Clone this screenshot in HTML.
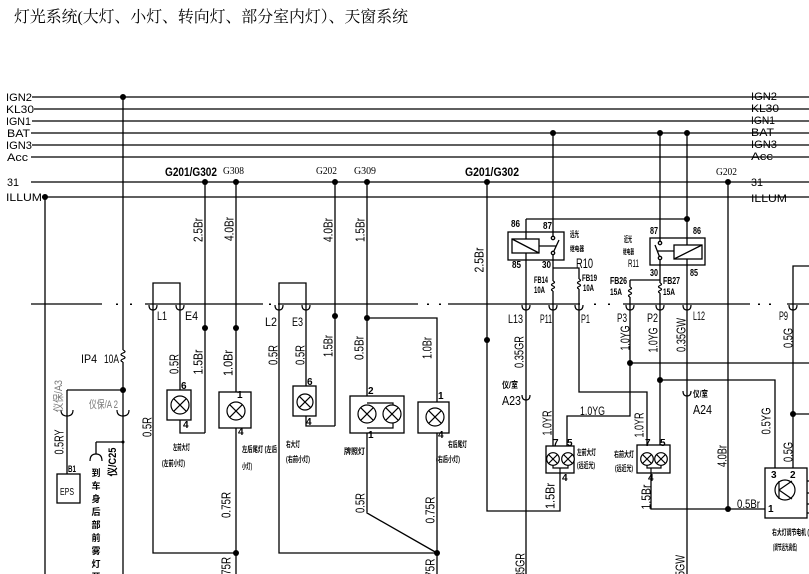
<!DOCTYPE html>
<html><head><meta charset="utf-8"><style>
html,body{margin:0;padding:0;background:#fff;width:809px;height:574px;overflow:hidden}
svg{display:block}
text{font-family:"Liberation Sans","Noto Sans CJK SC",sans-serif;fill:#000}
.cj{font-family:"Liberation Sans","Noto Sans CJK SC",sans-serif;font-weight:bold}
.r{font-size:13px}
.pn{font-size:10px;font-weight:bold}
</style></head><body>
<svg width="809" height="574" viewBox="0 0 809 574" xmlns="http://www.w3.org/2000/svg">
<rect width="809" height="574" fill="#fff"/>
<text x="14" y="22" style="font-family:'Liberation Serif','Noto Serif CJK SC',serif" font-size="16" fill="#222" textLength="394" lengthAdjust="spacingAndGlyphs">灯光系统(大灯、小灯、转向灯、部分室内灯）、天窗系统</text>

<!-- bus lines -->
<g stroke="#2a2a2a" stroke-width="1.5">
<line x1="32" y1="97" x2="809" y2="97"/>
<line x1="34" y1="109" x2="809" y2="109"/>
<line x1="32" y1="121" x2="809" y2="121"/>
<line x1="31" y1="133" x2="809" y2="133"/>
<line x1="32" y1="145" x2="809" y2="145"/>
<line x1="31" y1="157" x2="809" y2="157"/>
<line x1="31" y1="182" x2="809" y2="182"/>
<line x1="42" y1="197" x2="809" y2="197"/>
</g>
<g font-size="11">
<text x="6" y="101" textLength="26" lengthAdjust="spacingAndGlyphs">IGN2</text>
<text x="6" y="113" textLength="28" lengthAdjust="spacingAndGlyphs">KL30</text>
<text x="6" y="125" textLength="25" lengthAdjust="spacingAndGlyphs">IGN1</text>
<text x="7" y="137" textLength="23" lengthAdjust="spacingAndGlyphs">BAT</text>
<text x="6" y="149" textLength="26" lengthAdjust="spacingAndGlyphs">IGN3</text>
<text x="7" y="161" textLength="21" lengthAdjust="spacingAndGlyphs">Acc</text>
<text x="7" y="186" textLength="12" lengthAdjust="spacingAndGlyphs">31</text>
<text x="6" y="201" textLength="36" lengthAdjust="spacingAndGlyphs">ILLUM</text>
<text x="751" y="100" textLength="26" lengthAdjust="spacingAndGlyphs">IGN2</text>
<text x="751" y="112" textLength="28" lengthAdjust="spacingAndGlyphs">KL30</text>
<text x="751" y="124" textLength="24" lengthAdjust="spacingAndGlyphs">IGN1</text>
<text x="751" y="136" textLength="23" lengthAdjust="spacingAndGlyphs">BAT</text>
<text x="751" y="148" textLength="26" lengthAdjust="spacingAndGlyphs">IGN3</text>
<text x="751" y="160" textLength="22" lengthAdjust="spacingAndGlyphs">Acc</text>
<text x="751" y="186" textLength="12" lengthAdjust="spacingAndGlyphs">31</text>
<text x="751" y="202" textLength="36" lengthAdjust="spacingAndGlyphs">ILLUM</text>
</g>

<!-- ground labels -->
<text x="165" y="176" font-size="12" font-weight="bold" textLength="52" lengthAdjust="spacingAndGlyphs">G201/G302</text>
<text x="465" y="176" font-size="12" font-weight="bold" textLength="54" lengthAdjust="spacingAndGlyphs">G201/G302</text>
<g font-size="11" style="font-family:'Liberation Serif',serif">
<text x="223" y="174" textLength="21" lengthAdjust="spacingAndGlyphs" style="font-family:'Liberation Serif',serif">G308</text>
<text x="316" y="174" textLength="21" lengthAdjust="spacingAndGlyphs" style="font-family:'Liberation Serif',serif">G202</text>
<text x="354" y="174" textLength="22" lengthAdjust="spacingAndGlyphs" style="font-family:'Liberation Serif',serif">G309</text>
<text x="716" y="175" textLength="21" lengthAdjust="spacingAndGlyphs" style="font-family:'Liberation Serif',serif">G202</text>
</g>

<!-- cut line -->
<g stroke="#000" stroke-width="1.3">
<line x1="31" y1="304" x2="102" y2="304"/>
<line x1="145" y1="304" x2="263" y2="304"/>
<line x1="278" y1="304" x2="418" y2="304"/>
<line x1="448" y1="304" x2="580" y2="304"/>
<line x1="623" y1="304" x2="750" y2="304"/>
<line x1="787" y1="304" x2="809" y2="304"/>
</g>
<g fill="#000">
<rect x="116" y="303.5" width="2" height="1.5"/><rect x="130" y="303.5" width="2" height="1.5"/>
<rect x="269" y="303.5" width="2" height="1.5"/>
<rect x="427" y="303.5" width="2" height="1.5"/><rect x="439" y="303.5" width="2" height="1.5"/>
<rect x="594" y="303.5" width="2" height="1.5"/><rect x="608" y="303.5" width="2" height="1.5"/>
<rect x="758" y="303.5" width="2" height="1.5"/><rect x="769" y="303.5" width="2" height="1.5"/>
</g>

<!-- wires -->
<path fill="none" stroke="#000" stroke-width="1.3" d="
M45 197V574
M123 97V350 M123 362V574
M67 390H123 M67 390V474
M96 442H123 M96 442V454
M153 304V283H180V390
M153 304V553H236
M180 420V433H205
M205 182V433
M236 182V392 M236 428V574
M279 304V283H306V386
M279 304V553H437
M306 416V426H335
M335 182V426
M367 182V396
M367 318H437V402
M367 433V513L437 553
M437 433V574
M487 182V511H560V473
M526 219H687
M526 219V574
M553 133V236.4
M553 254.6V281 M553 291V446
M553 268H579V279 M579 289V392H647V446
M630 280H660
M630 280V287 M630 297V416H567V446
M660 133V241.4
M660 259.6V283 M660 293V446
M630 363H809
M660 380H775V468
M651 473V509H765
M687 133V574
M728 182V509
M793 468V266H809
M793 414H809
"/>
<!-- fuses -->
<g fill="none" stroke="#000" stroke-width="1.2">
<path d="M123 350q4 1.5 0 3q-4 1.5 0 3q4 1.5 0 3q-4 1.5 0 3"/>
<path d="M553 281q3 1.25 0 2.5q-3 1.25 0 2.5q3 1.25 0 2.5q-3 1.25 0 2.5"/>
<path d="M579 279q3 1.25 0 2.5q-3 1.25 0 2.5q3 1.25 0 2.5q-3 1.25 0 2.5"/>
<path d="M630 287q3 1.25 0 2.5q-3 1.25 0 2.5q3 1.25 0 2.5q-3 1.25 0 2.5"/>
<path d="M660 283q3 1.25 0 2.5q-3 1.25 0 2.5q3 1.25 0 2.5q-3 1.25 0 2.5"/>
</g>
<!-- connector cups -->
<g fill="none" stroke="#000" stroke-width="1.2">
<path d="M149 305q0 5 4 5q4 0 4-5"/>
<path d="M176 305q0 5 4 5q4 0 4-5"/>
<path d="M275 305q0 5 4 5q4 0 4-5"/>
<path d="M302 305q0 5 4 5q4 0 4-5"/>
<path d="M522 305q0 5 4 5q4 0 4-5"/>
<path d="M549 305q0 5 4 5q4 0 4-5"/>
<path d="M575 305q0 5 4 5q4 0 4-5"/>
<path d="M626 305q0 5 4 5q4 0 4-5"/>
<path d="M656 305q0 5 4 5q4 0 4-5"/>
<path d="M683 305q0 5 4 5q4 0 4-5"/>
<path d="M789 305q0 5 4 5q4 0 4-5"/>
<path d="M522 395q0 5 4 5q4 0 4-5"/>
<path d="M683 391q0 5 4 5q4 0 4-5"/>
<path d="M61 410q0 6 6 6q6 0 6-6"/>
<path d="M117 410q0 6 6 6q6 0 6-6"/>
<path d="M90 461q0-7 6-7q6 0 6 7"/>
</g>

<!-- lamp boxes -->
<g fill="#fff" stroke="#000" stroke-width="1.3">
<rect x="167" y="390" width="24" height="30"/>
<rect x="219" y="392" width="32" height="36"/>
<rect x="293" y="386" width="23" height="30"/>
<rect x="350" y="396" width="54" height="37"/>
<rect x="418" y="402" width="31" height="31"/>
<rect x="546" y="446" width="28" height="27"/>
<rect x="637" y="445" width="33" height="28"/>
<rect x="765" y="468" width="42" height="50"/>
</g>
<g fill="none" stroke="#000" stroke-width="1.2">
<path d="M367 403H393V428H367"/>
<path d="M553 465V468H568V465 M560 468V473"/>
<path d="M647 465V468H661V465 M651 468V473"/>
<circle cx="180" cy="405" r="9"/><path d="M173.6 398.6L186.4 411.4M186.4 398.6L173.6 411.4"/>
<circle cx="236" cy="411" r="9"/><path d="M229.6 404.6L242.4 417.4M242.4 404.6L229.6 417.4"/>
<circle cx="305" cy="402" r="8"/><path d="M299.3 396.3L310.7 407.7M310.7 396.3L299.3 407.7"/>
<circle cx="367" cy="414" r="9" fill="#fff"/><path d="M360.6 407.6L373.4 420.4M373.4 407.6L360.6 420.4"/>
<circle cx="392" cy="414" r="9" fill="#fff"/><path d="M385.6 407.6L398.4 420.4M398.4 407.6L385.6 420.4"/>
<circle cx="435" cy="417" r="9"/><path d="M428.6 410.6L441.4 423.4M441.4 410.6L428.6 423.4"/>
<circle cx="553" cy="459" r="6.3" fill="#fff"/><path d="M548.5 454.5L557.5 463.5M557.5 454.5L548.5 463.5"/>
<circle cx="568" cy="459" r="6.3" fill="#fff"/><path d="M563.5 454.5L572.5 463.5M572.5 454.5L563.5 463.5"/>
<circle cx="647" cy="459" r="6.3" fill="#fff"/><path d="M642.5 454.5L651.5 463.5M651.5 454.5L642.5 463.5"/>
<circle cx="661" cy="459" r="6.3" fill="#fff"/><path d="M656.5 454.5L665.5 463.5M665.5 454.5L656.5 463.5"/>
<circle cx="785" cy="490" r="10"/>
<path d="M779 481V499 M779 490L792 481 M779 490L792 499"/>
<path d="M807 481H809 M807 493H809 M807 504H809 M807 513H809"/>
</g>

<!-- EPS -->
<rect x="57" y="474" width="23" height="29" fill="#fff" stroke="#000" stroke-width="1.3"/>
<text x="60" y="495" font-size="10" textLength="14" lengthAdjust="spacingAndGlyphs">EPS</text>
<text x="68" y="472" font-size="9" font-weight="bold" textLength="8" lengthAdjust="spacingAndGlyphs">B1</text>

<!-- relays -->
<g fill="none" stroke="#000" stroke-width="1.3">
<rect x="508" y="232" width="56" height="28"/>
<rect x="512" y="239" width="27" height="14" fill="#fff"/>
<path d="M512 239L539 253"/>
<path d="M539 246H556 M553 253L559 240"/>
<circle cx="553" cy="238" r="1.7" fill="#fff"/>
<circle cx="553" cy="253" r="1.7" fill="#fff"/>
<rect x="650" y="238" width="55" height="27"/>
<rect x="674" y="245" width="28" height="14" fill="#fff"/>
<path d="M674 259L702 245"/>
<path d="M657 251H674 M660 258L655 245"/>
<circle cx="660" cy="243" r="1.7" fill="#fff"/>
<circle cx="660" cy="258" r="1.7" fill="#fff"/>
</g>
<g class="pn">
<text x="511" y="227" textLength="9" lengthAdjust="spacingAndGlyphs">86</text>
<text x="543" y="229" textLength="9" lengthAdjust="spacingAndGlyphs">87</text>
<text x="512" y="268" textLength="9" lengthAdjust="spacingAndGlyphs">85</text>
<text x="542" y="268" textLength="9" lengthAdjust="spacingAndGlyphs">30</text>
<text x="650" y="234" textLength="8" lengthAdjust="spacingAndGlyphs">87</text>
<text x="693" y="234" textLength="8" lengthAdjust="spacingAndGlyphs">86</text>
<text x="650" y="276" textLength="8" lengthAdjust="spacingAndGlyphs">30</text>
<text x="690" y="276" textLength="8" lengthAdjust="spacingAndGlyphs">85</text>
<text x="534" y="283" font-size="9" textLength="14" lengthAdjust="spacingAndGlyphs">FB14</text>
<text x="534" y="293" font-size="9" textLength="11" lengthAdjust="spacingAndGlyphs">10A</text>
<text x="582" y="281" font-size="9" textLength="15" lengthAdjust="spacingAndGlyphs">FB19</text>
<text x="583" y="291" font-size="9" textLength="11" lengthAdjust="spacingAndGlyphs">10A</text>
<text x="610" y="284" textLength="17" lengthAdjust="spacingAndGlyphs">FB26</text>
<text x="610" y="295" font-size="9" textLength="12" lengthAdjust="spacingAndGlyphs">15A</text>
<text x="663" y="284" textLength="17" lengthAdjust="spacingAndGlyphs">FB27</text>
<text x="663" y="295" font-size="9" textLength="12" lengthAdjust="spacingAndGlyphs">15A</text>
</g>
<text x="576" y="268" font-size="14" textLength="17" lengthAdjust="spacingAndGlyphs">R10</text>
<text x="628" y="267" font-size="11" textLength="11" lengthAdjust="spacingAndGlyphs">R11</text>
<g class="cj">
<text x="570" y="237" font-size="8" textLength="9" lengthAdjust="spacingAndGlyphs">远光</text>
<text x="570" y="251" font-size="7" textLength="14" lengthAdjust="spacingAndGlyphs">继电器</text>
<text x="624" y="242" font-size="8" textLength="8" lengthAdjust="spacingAndGlyphs">近光</text>
<text x="623" y="254" font-size="7" textLength="11" lengthAdjust="spacingAndGlyphs">继电器</text>
</g>

<!-- connector labels -->
<g font-size="12">
<text x="157" y="320" textLength="10" lengthAdjust="spacingAndGlyphs">L1</text>
<text x="185" y="320" textLength="13" lengthAdjust="spacingAndGlyphs">E4</text>
<text x="265" y="326" textLength="12" lengthAdjust="spacingAndGlyphs">L2</text>
<text x="292" y="326" textLength="11" lengthAdjust="spacingAndGlyphs">E3</text>
<text x="508" y="323" textLength="15" lengthAdjust="spacingAndGlyphs">L13</text>
<text x="540" y="323" textLength="12" lengthAdjust="spacingAndGlyphs">P11</text>
<text x="581" y="323" textLength="9" lengthAdjust="spacingAndGlyphs">P1</text>
<text x="617" y="322" textLength="10" lengthAdjust="spacingAndGlyphs">P3</text>
<text x="647" y="322" textLength="11" lengthAdjust="spacingAndGlyphs">P2</text>
<text x="693" y="320" textLength="12" lengthAdjust="spacingAndGlyphs">L12</text>
<text x="779" y="320" textLength="9" lengthAdjust="spacingAndGlyphs">P9</text>
<text x="502" y="405" font-size="13" textLength="19" lengthAdjust="spacingAndGlyphs">A23</text>
<text x="693" y="414" font-size="13" textLength="19" lengthAdjust="spacingAndGlyphs">A24</text>
<text x="81" y="363" textLength="16" lengthAdjust="spacingAndGlyphs">IP4</text>
<text x="104" y="363" textLength="15" lengthAdjust="spacingAndGlyphs">10A</text>
<text x="580" y="415" textLength="25" lengthAdjust="spacingAndGlyphs">1.0YG</text>
<text x="737" y="508" textLength="23" lengthAdjust="spacingAndGlyphs">0.5Br</text>
</g>
<g class="cj" font-size="9">
<text x="502" y="388" textLength="16" lengthAdjust="spacingAndGlyphs">仪/室</text>
<text x="693" y="397" textLength="15" lengthAdjust="spacingAndGlyphs">仪/室</text>
</g>
<text x="89" y="408" font-size="11" fill="#777" style="fill:#777" textLength="29" lengthAdjust="spacingAndGlyphs">仪保/A 2</text>
<text transform="translate(58,396) rotate(-90)" text-anchor="middle" y="4" font-size="11" style="fill:#777" textLength="32" lengthAdjust="spacingAndGlyphs">仪保/A3</text>
<text class="cj" transform="translate(112,462) rotate(-90)" text-anchor="middle" y="4" font-size="11" textLength="29" lengthAdjust="spacingAndGlyphs">仪/C25</text>
<g class="cj" font-size="9" text-anchor="middle">
<text x="96" y="476">到</text><text x="96" y="489">车</text><text x="96" y="502">身</text>
<text x="96" y="515">后</text><text x="96" y="528">部</text><text x="96" y="541">前</text>
<text x="96" y="554">雾</text><text x="96" y="567">灯</text><text x="96" y="580">开</text>
</g>

<!-- pin numbers -->
<g class="pn" font-size="9">
<text x="181" y="389">6</text><text x="183" y="428">4</text>
<text x="237" y="398">1</text><text x="238" y="435">4</text>
<text x="307" y="385">6</text><text x="306" y="425">4</text>
<text x="368" y="394">2</text><text x="368" y="438">1</text>
<text x="438" y="399">1</text><text x="438" y="438">4</text>
<text x="553" y="446">7</text><text x="567" y="446">5</text><text x="562" y="481">4</text>
<text x="645" y="446">7</text><text x="660" y="446">5</text><text x="648" y="481">4</text>
<text x="771" y="478">3</text><text x="790" y="478">2</text><text x="768" y="512">1</text>
</g>

<!-- lamp captions -->
<g class="cj" font-size="8">
<text x="173" y="450" textLength="17" lengthAdjust="spacingAndGlyphs">左前大灯</text>
<text x="162" y="466" textLength="23" lengthAdjust="spacingAndGlyphs">(左前小灯)</text>
<text x="242" y="452" textLength="35" lengthAdjust="spacingAndGlyphs">左后尾灯 (左后</text>
<text x="242" y="469" textLength="10" lengthAdjust="spacingAndGlyphs">小灯)</text>
<text x="286" y="447" textLength="14" lengthAdjust="spacingAndGlyphs">右大灯</text>
<text x="286" y="462" textLength="24" lengthAdjust="spacingAndGlyphs">(右前小灯)</text>
<text x="344" y="454" textLength="21" lengthAdjust="spacingAndGlyphs">牌照灯</text>
<text x="448" y="447" textLength="19" lengthAdjust="spacingAndGlyphs">右后尾灯</text>
<text x="436" y="462" textLength="24" lengthAdjust="spacingAndGlyphs">(右后小灯)</text>
<text x="577" y="455" textLength="19" lengthAdjust="spacingAndGlyphs">左前大灯</text>
<text x="577" y="468" textLength="18" lengthAdjust="spacingAndGlyphs">(远近光)</text>
<text x="614" y="457" textLength="20" lengthAdjust="spacingAndGlyphs">右前大灯</text>
<text x="615" y="471" textLength="18" lengthAdjust="spacingAndGlyphs">(远近光)</text>
<text x="772" y="535" textLength="37" lengthAdjust="spacingAndGlyphs">右大灯调节电机 (</text>
<text x="773" y="550" textLength="24" lengthAdjust="spacingAndGlyphs">(调节远光高低)</text>
</g>

<!-- rotated wire labels -->
<g class="r" text-anchor="middle">
<text transform="translate(198,230) rotate(-90)" y="4.6" textLength="24" lengthAdjust="spacingAndGlyphs">2.5Br</text>
<text transform="translate(229,229) rotate(-90)" y="4.6" textLength="24" lengthAdjust="spacingAndGlyphs">4.0Br</text>
<text transform="translate(198,362) rotate(-90)" y="4.6" textLength="25" lengthAdjust="spacingAndGlyphs">1.5Br</text>
<text transform="translate(228,363) rotate(-90)" y="4.6" textLength="26" lengthAdjust="spacingAndGlyphs">1.0Br</text>
<text transform="translate(174,364) rotate(-90)" y="4.6" textLength="20" lengthAdjust="spacingAndGlyphs">0.5R</text>
<text transform="translate(147,427) rotate(-90)" y="4.6" textLength="20" lengthAdjust="spacingAndGlyphs">0.5R</text>
<text transform="translate(59,442) rotate(-90)" y="4.6" textLength="25" lengthAdjust="spacingAndGlyphs">0.5RY</text>
<text transform="translate(226,505) rotate(-90)" y="4.6" textLength="26" lengthAdjust="spacingAndGlyphs">0.75R</text>
<text transform="translate(226,570) rotate(-90)" y="4.6" textLength="26" lengthAdjust="spacingAndGlyphs">0.75R</text>
<text transform="translate(273,355) rotate(-90)" y="4.6" textLength="20" lengthAdjust="spacingAndGlyphs">0.5R</text>
<text transform="translate(300,355) rotate(-90)" y="4.6" textLength="20" lengthAdjust="spacingAndGlyphs">0.5R</text>
<text transform="translate(328,346) rotate(-90)" y="4.6" textLength="22" lengthAdjust="spacingAndGlyphs">1.5Br</text>
<text transform="translate(359,348) rotate(-90)" y="4.6" textLength="24" lengthAdjust="spacingAndGlyphs">0.5Br</text>
<text transform="translate(427,348) rotate(-90)" y="4.6" textLength="22" lengthAdjust="spacingAndGlyphs">1.0Br</text>
<text transform="translate(328,230) rotate(-90)" y="4.6" textLength="24" lengthAdjust="spacingAndGlyphs">4.0Br</text>
<text transform="translate(360,230) rotate(-90)" y="4.6" textLength="24" lengthAdjust="spacingAndGlyphs">1.5Br</text>
<text transform="translate(360,503) rotate(-90)" y="4.6" textLength="20" lengthAdjust="spacingAndGlyphs">0.5R</text>
<text transform="translate(430,510) rotate(-90)" y="4.6" textLength="27" lengthAdjust="spacingAndGlyphs">0.75R</text>
<text transform="translate(430,572) rotate(-90)" y="4.6" textLength="27" lengthAdjust="spacingAndGlyphs">0.75R</text>
<text transform="translate(479,260) rotate(-90)" y="4.6" textLength="25" lengthAdjust="spacingAndGlyphs">2.5Br</text>
<text transform="translate(519,352) rotate(-90)" y="4.6" textLength="32" lengthAdjust="spacingAndGlyphs">0.35GR</text>
<text transform="translate(625,338) rotate(-90)" y="4.6" textLength="25" lengthAdjust="spacingAndGlyphs">1.0YG</text>
<text transform="translate(653,340) rotate(-90)" y="4.6" textLength="25" lengthAdjust="spacingAndGlyphs">1.0YG</text>
<text transform="translate(681,335) rotate(-90)" y="4.6" textLength="34" lengthAdjust="spacingAndGlyphs">0.35GW</text>
<text transform="translate(547,423) rotate(-90)" y="4.6" textLength="25" lengthAdjust="spacingAndGlyphs">1.0YR</text>
<text transform="translate(639,425) rotate(-90)" y="4.6" textLength="25" lengthAdjust="spacingAndGlyphs">1.0YR</text>
<text transform="translate(550,496) rotate(-90)" y="4.6" textLength="26" lengthAdjust="spacingAndGlyphs">1.5Br</text>
<text transform="translate(646,497) rotate(-90)" y="4.6" textLength="25" lengthAdjust="spacingAndGlyphs">1.5Br</text>
<text transform="translate(520,569) rotate(-90)" y="4.6" textLength="32" lengthAdjust="spacingAndGlyphs">0.35GR</text>
<text transform="translate(680,572) rotate(-90)" y="4.6" textLength="34" lengthAdjust="spacingAndGlyphs">0.35GW</text>
<text transform="translate(788,338) rotate(-90)" y="4.6" textLength="20" lengthAdjust="spacingAndGlyphs">0.5G</text>
<text transform="translate(766,421) rotate(-90)" y="4.6" textLength="27" lengthAdjust="spacingAndGlyphs">0.5YG</text>
<text transform="translate(788,452) rotate(-90)" y="4.6" textLength="20" lengthAdjust="spacingAndGlyphs">0.5G</text>
<text transform="translate(722,456) rotate(-90)" y="4.6" textLength="22" lengthAdjust="spacingAndGlyphs">4.0Br</text>
</g>

<!-- junction dots -->
<g fill="#000">
<circle cx="123" cy="97" r="3"/><circle cx="45" cy="197" r="3"/>
<circle cx="205" cy="182" r="3"/><circle cx="236" cy="182" r="3"/>
<circle cx="335" cy="182" r="3"/><circle cx="367" cy="182" r="3"/>
<circle cx="487" cy="182" r="3"/><circle cx="728" cy="182" r="3"/>
<circle cx="553" cy="133" r="3"/><circle cx="660" cy="133" r="3"/><circle cx="687" cy="133" r="3"/>
<circle cx="687" cy="219" r="3"/>
<circle cx="205" cy="328" r="3"/><circle cx="236" cy="328" r="3"/>
<circle cx="335" cy="316" r="3"/><circle cx="367" cy="318" r="3"/>
<circle cx="487" cy="340" r="3"/><circle cx="630" cy="363" r="3"/>
<circle cx="660" cy="380" r="3"/><circle cx="793" cy="414" r="3"/>
<circle cx="728" cy="509" r="3"/><circle cx="123" cy="390" r="3"/>
<circle cx="236" cy="553" r="3"/><circle cx="437" cy="553" r="3"/>
<circle cx="123" cy="442" r="1.5"/>
</g>
</svg>
</body></html>
